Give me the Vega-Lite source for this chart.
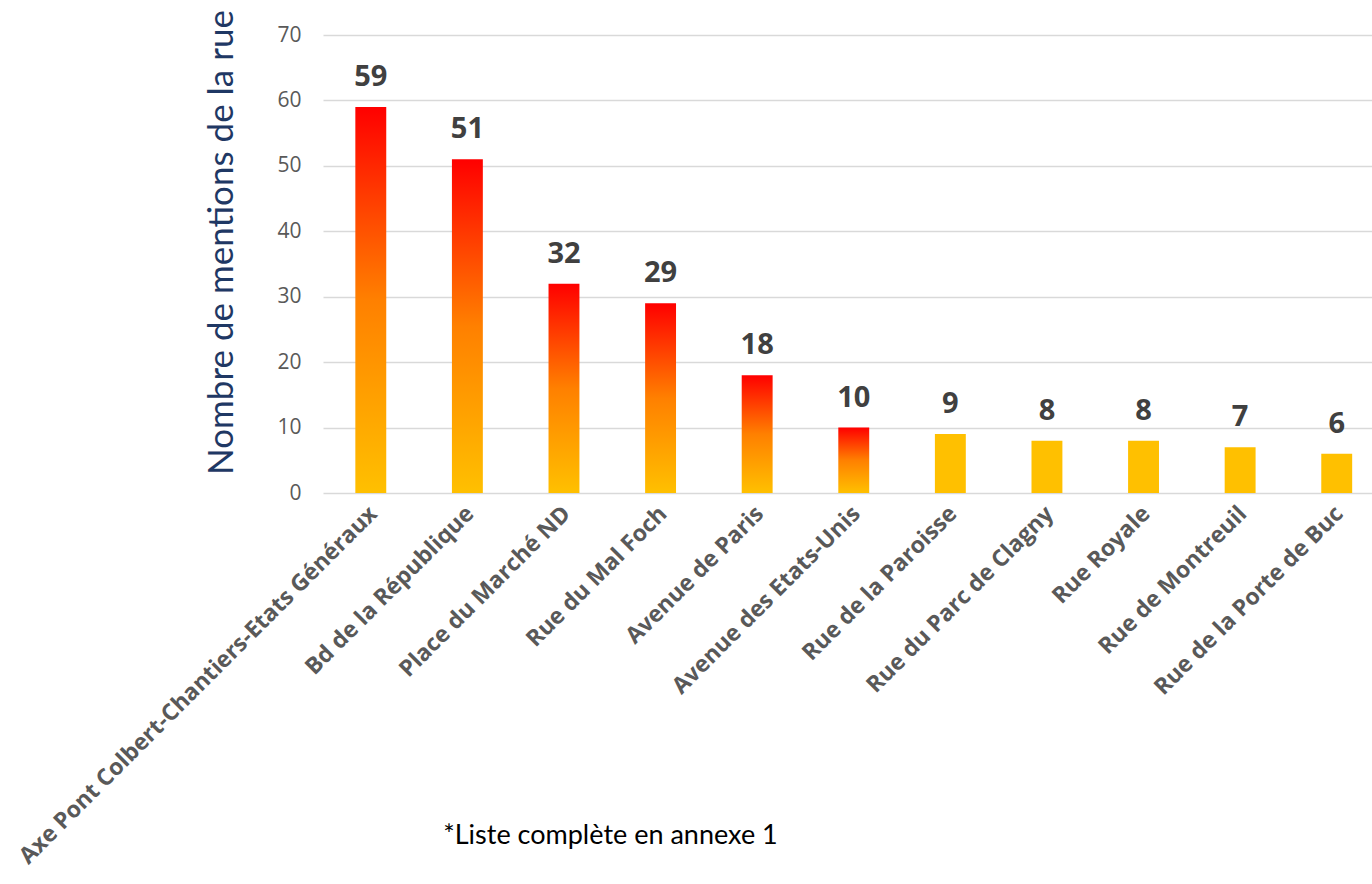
{
  "$schema": "https://vega.github.io/schema/vega-lite/v6.json",
  "autosize": {"type": "none"},
  "width": 1049,
  "height": 458,
  "padding": {"left": 323, "top": 35, "right": 0, "bottom": 391},
  "background": "white",
  "config": {"view": {"stroke": null}},
  "data": {"values": [
    {"rue": "Axe Pont Colbert-Chantiers-Etats Généraux", "n": 59},
    {"rue": "Bd de la République", "n": 51},
    {"rue": "Place du Marché ND", "n": 32},
    {"rue": "Rue du Mal Foch", "n": 29},
    {"rue": "Avenue de Paris", "n": 18},
    {"rue": "Avenue des Etats-Unis", "n": 10},
    {"rue": "Rue de la Paroisse", "n": 9},
    {"rue": "Rue du Parc de Clagny", "n": 8},
    {"rue": "Rue Royale", "n": 8},
    {"rue": "Rue de Montreuil", "n": 7},
    {"rue": "Rue de la Porte de Buc", "n": 6}
  ]},
  "encoding": {
    "x": {
      "field": "rue", "type": "nominal", "sort": null,
      "scale": {"paddingInner": 0.68, "paddingOuter": 0.27, "align": 0.62},
      "axis": {
        "labelAngle": -45, "labelFont": "Open Sans", "labelFontWeight": "bold",
        "labelFontSize": 23, "labelColor": "#595959", "labelPadding": 9,
        "labelOffset": -5,
        "ticks": false, "domain": false, "labelLimit": 900,
        "title": "*Liste complète en annexe 1",
        "titleFont": "Lato", "titleFontSize": 27, "titleFontWeight": "normal",
        "titleColor": "#000000", "titleX": 287, "titleY": 350,
        "titleAlign": "center", "titleBaseline": "alphabetic"
      }
    },
    "y": {
      "field": "n", "type": "quantitative",
      "scale": {"domain": [0, 70]},
      "axis": {
        "values": [0, 10, 20, 30, 40, 50, 60, 70],
        "grid": true, "gridColor": "#D9D9D9", "gridWidth": 1.5,
        "domain": false, "ticks": false,
        "labelFont": "Open Sans", "labelFontSize": 21, "labelColor": "#595959",
        "labelPadding": 22,
        "title": "Nombre de mentions de la rue",
        "titleFont": "Lato", "titleFontSize": 35, "titleFontWeight": "normal",
        "titleColor": "#1F3864", "titleAngle": -90,
        "titleX": -91, "titleY": 207, "titleAlign": "center", "titleBaseline": "alphabetic"
      }
    }
  },
  "layer": [
    {
      "transform": [{"filter": "datum.n >= 10"}],
      "mark": {
        "type": "bar",
        "color": {
          "gradient": "linear", "x1": 0, "y1": 0, "x2": 0, "y2": 1,
          "stops": [
            {"offset": 0, "color": "#FF0000"},
            {"offset": 0.5, "color": "#FF8000"},
            {"offset": 1, "color": "#FFC000"}
          ]
        }
      }
    },
    {
      "transform": [{"filter": "datum.n < 10"}],
      "mark": {"type": "bar", "color": "#FFC000"}
    },
    {
      "mark": {
        "type": "text", "font": "Open Sans", "fontWeight": "bold", "fontSize": 29,
        "color": "#404040", "align": "center", "baseline": "alphabetic", "dy": -21
      },
      "encoding": {"text": {"field": "n", "type": "quantitative"}}
    }
  ]
}
